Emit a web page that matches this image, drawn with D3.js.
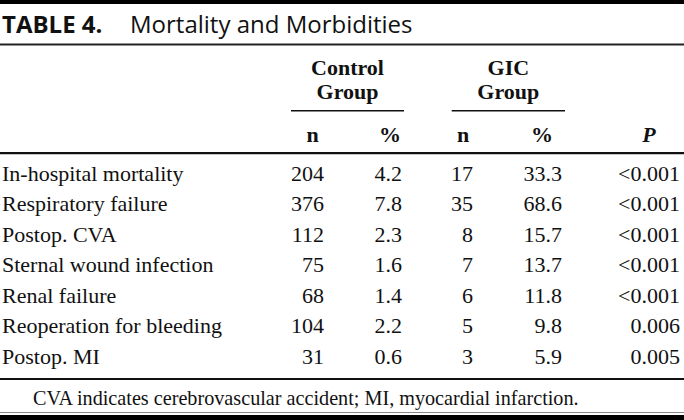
<!DOCTYPE html>
<html><head><meta charset="utf-8">
<script src="https://cdn.jsdelivr.net/npm/d3@7"></script>
<style>html,body{margin:0;padding:0;background:#fff;overflow:hidden}</style>
</head><body><svg id="c" width="684" height="420"></svg>
<script>
// ---- data ----
const tableLabel = "TABLE 4.";
const tableTitle = "Mortality and Morbidities";
const groupNames = [["Control", "Group"], ["GIC", "Group"]];
const columnHeaders = ["n", "%", "n", "%", "P"];
const categories = [
  "In-hospital mortality",
  "Respiratory failure",
  "Postop. CVA",
  "Sternal wound infection",
  "Renal failure",
  "Reoperation for bleeding",
  "Postop. MI"
];
const controlN = [204, 376, 112, 75, 68, 104, 31];
const controlPct = [4.2, 7.8, 2.3, 1.6, 1.4, 2.2, 0.6];
const gicN = [17, 35, 8, 7, 6, 5, 3];
const gicPct = [33.3, 68.6, 15.7, 13.7, 11.8, 9.8, 5.9];
const pValues = ["<0.001", "<0.001", "<0.001", "<0.001", "<0.001", "0.006", "0.005"];
const footnote = "CVA indicates cerebrovascular accident; MI, myocardial infarction.";

// ---- layout ----
const W = 684, H = 420;
const svg = d3.select("#c");
const serif = "'Liberation Serif','Times New Roman',serif";
const sans = "'Open Sans','Noto Sans',sans-serif";
const ink = "#111";

const colKeys = ["cn", "cp", "gn", "gp", "p"];
const xRight = d3.scaleOrdinal().domain(colKeys).range([324, 402, 473, 562, 680]);
const xHead = d3.scaleOrdinal().domain(colKeys).range([312.5, 390, 463, 542, 649]);
const y = d3.scalePoint().domain(categories).range([180.7, 363.7]);

const fmtPct = d3.format(".1f");
const rows = categories.map((c, i) => ({
  label: c,
  cells: [
    {k: "cn", v: String(controlN[i])},
    {k: "cp", v: fmtPct(controlPct[i])},
    {k: "gn", v: String(gicN[i])},
    {k: "gp", v: fmtPct(gicPct[i])},
    {k: "p", v: pValues[i]}
  ]
}));

// rules
svg.append("rect").attr("x", 0).attr("y", 0).attr("width", W).attr("height", 4).attr("fill", "#000");
function hline(x1, x2, yy, w, col) {
  svg.append("line").attr("x1", x1).attr("x2", x2).attr("y1", yy).attr("y2", yy)
    .attr("stroke", col || "#000").attr("stroke-width", w);
}
hline(0, W, 44.5, 1.8, "#222");
hline(0, W, 153.2, 2.2, "#111");
hline(0, W, 379, 2.2, "#111");
hline(0, W, 412.5, 1, "#888");
svg.append("rect").attr("x", 0).attr("y", 415).attr("width", W).attr("height", 5).attr("fill", "#000");

// title
const t = svg.append("text").attr("x", 2).attr("y", 33).attr("font-family", sans).attr("font-size", 24).attr("fill", ink);
t.append("tspan").attr("font-weight", 700).text(tableLabel);
t.append("tspan").attr("x", 130).attr("font-weight", 400).text(tableTitle);

// group headers
const groupCenters = [347.5, 508.3];
const groupSpans = [[291, 404], [451.7, 565]];
groupNames.forEach((g, gi) => {
  g.forEach((line, li) => {
    svg.append("text").attr("x", groupCenters[gi]).attr("y", li === 0 ? 75 : 99.3)
      .attr("text-anchor", "middle").attr("font-family", serif).attr("font-weight", 700)
      .attr("font-size", 22).attr("fill", ink).text(line);
  });
  hline(groupSpans[gi][0], groupSpans[gi][1], 110.8, 1.6, "#111");
});

// column headers
svg.selectAll("text.colhead").data(colKeys).join("text").attr("class", "colhead")
  .attr("x", d => xHead(d)).attr("y", 141.7).attr("text-anchor", "middle")
  .attr("font-family", serif).attr("font-weight", 700).attr("font-size", 22).attr("fill", ink)
  .attr("font-style", (d, i) => columnHeaders[i] === "P" ? "italic" : "normal")
  .text((d, i) => columnHeaders[i]);

// body rows
const rowG = svg.selectAll("g.row").data(rows).join("g").attr("class", "row")
  .attr("transform", d => `translate(0,${y(d.label)})`);
rowG.append("text").attr("x", 2).attr("font-family", serif).attr("font-size", 22)
  .attr("fill", ink).text(d => d.label);
rowG.selectAll("text.cell").data(d => d.cells).join("text").attr("class", "cell")
  .attr("x", d => xRight(d.k)).attr("text-anchor", "end")
  .attr("font-family", serif).attr("font-size", 22).attr("fill", ink).text(d => d.v);

// footnote
svg.append("text").attr("x", 33).attr("y", 405).attr("font-family", serif).attr("font-size", 20.2)
  .attr("fill", ink).text(footnote);
</script></body></html>
